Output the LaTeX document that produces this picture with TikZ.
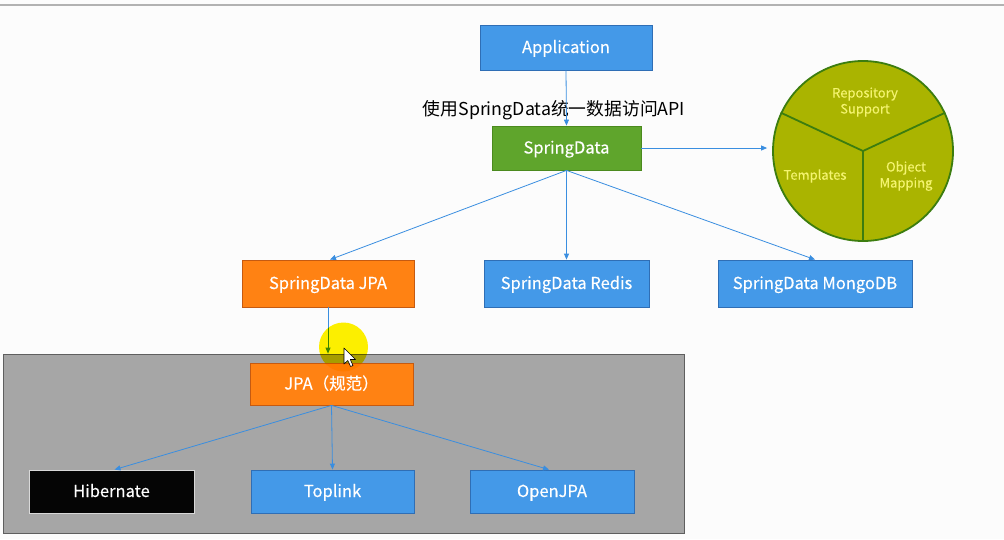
\documentclass[tikz,border=0pt]{standalone}
\usepackage{fontspec}
\setmainfont{Noto Sans CJK SC}
\newfontfamily\boxfont[FakeBold=0.3]{Noto Sans CJK SC}
\usetikzlibrary{arrows.meta,calc}
\definecolor{bgc}{HTML}{FCFCFC}
\definecolor{blueF}{HTML}{4499E8}
\definecolor{blueD}{HTML}{2F6EB5}
\definecolor{greenF}{HTML}{5FA52C}
\definecolor{greenD}{HTML}{4B8A1E}
\definecolor{orangeF}{HTML}{FF8213}
\definecolor{orangeD}{HTML}{C55A11}
\definecolor{oliveF}{HTML}{AAB400}
\definecolor{oliveD}{HTML}{3C7D0F}
\definecolor{circTxt}{HTML}{F4F470}
\definecolor{grayF}{HTML}{A6A6A6}
\definecolor{grayD}{HTML}{5F5F5F}
\definecolor{lineC}{HTML}{3A8EE0}
\tikzset{
  box/.style={draw, line width=0.8pt, inner sep=0pt, text=white, text height=11pt, text depth=0pt,
    font=\boxfont\fontsize{16.5}{18}\selectfont},
  bluebox/.style={box, fill=blueF, draw=blueD},
  conn/.style={draw=lineC, line width=0.8pt, -{Triangle[length=6pt,width=5pt]}},
  circlabel/.style={text=circTxt, align=center, font=\boxfont\fontsize{13}{16}\selectfont},
}
\begin{document}
\begin{tikzpicture}[x=1pt,y=-1pt]
\fill[bgc] (0,0) rectangle (1004,539);
\useasboundingbox (0,0) rectangle (1004,539);
\draw[line width=1.5pt, color=black!30] (0,5) -- (1004,5);

% nodes
\node[bluebox, minimum width=172pt, minimum height=45pt] (app) at (566,47.5) {Application};
\node[box, fill=greenF, draw=greenD, minimum width=149pt, minimum height=44pt] (sd) at (566.5,148) {SpringData};
\node[font=\fontsize{17.8}{20}\selectfont, inner sep=0pt, text height=12.5pt, text depth=0pt] (lbl) at (554,109) {使用SpringData统一数据访问API};

\node[box, fill=orangeF, draw=orangeD, minimum width=172pt, minimum height=47pt] (jpa) at (328,283.5) {SpringData JPA};
\node[bluebox, minimum width=165pt, minimum height=47pt] (redis) at (566.5,283.5) {SpringData Redis};
\node[bluebox, minimum width=194pt, minimum height=47pt] (mongo) at (815,283.5) {SpringData MongoDB};

% circle
\node[circle, fill=oliveF, draw=oliveD, line width=1.8pt, minimum size=180pt, inner sep=0pt] (circ) at (863,151) {};
\draw[oliveD, line width=1.8pt] (circ.center) -- (circ.155) (circ.center) -- (circ.25) (circ.center) -- (circ.south);
\node[circlabel] (rep) at (865,102) {Repository\\Support};
\node[circlabel] (tpl) at (815,176) {Templates};
\node[circlabel] (obj) at (906,176) {Object\\Mapping};

% gray container
\node[draw=grayD, fill=grayF, line width=0.8pt, minimum width=681pt, minimum height=179pt, inner sep=0pt] (gray) at (343.5,443.5) {};
\node[box, fill=orangeF, draw=orangeD, minimum width=163pt, minimum height=42pt] (spec) at (331.5,384) {JPA（规范）};
\node[box, fill=black!98, draw=black!15, minimum width=165pt, minimum height=43pt] (hib) at (111.5,491.5) {Hibernate};
\node[bluebox, minimum width=163pt, minimum height=43pt] (top) at (332.5,491.5) {Toplink};
\node[bluebox, minimum width=164pt, minimum height=43pt] (open) at (552,491.5) {OpenJPA};

% connectors
\draw[conn] (app.south) -- (sd.north);
\draw[conn] (sd.east) -- ($(circ.west |- sd.east)+(-5,0)$);
\draw[conn] (sd.south) -- ($(jpa.north)+(2,0)$);
\draw[conn] (sd.south) -- (redis.north);
\draw[conn] (sd.south) -- (mongo.north);
\draw[conn] (jpa.south) -- (jpa.south |- gray.north);
\draw[conn] (spec.south) -- ($(hib.north)+(3,0)$);
\draw[conn] (spec.south) -- (top.north);
\draw[conn] (spec.south) -- ($(open.north)+(-3,0)$);

% cursor highlight
\begin{scope}[blend mode=multiply]
\fill[yellow] (343.5,347) circle (24.5);
\end{scope}
\filldraw[fill=white, draw=black, line width=0.6pt, line join=round]
  (344,348) -- (344,364) -- (347.8,360.5) -- (350.6,366.5) -- (353,365.5) -- (350.3,359.5) -- (355.5,359.5) -- cycle;
\end{tikzpicture}
\end{document}
